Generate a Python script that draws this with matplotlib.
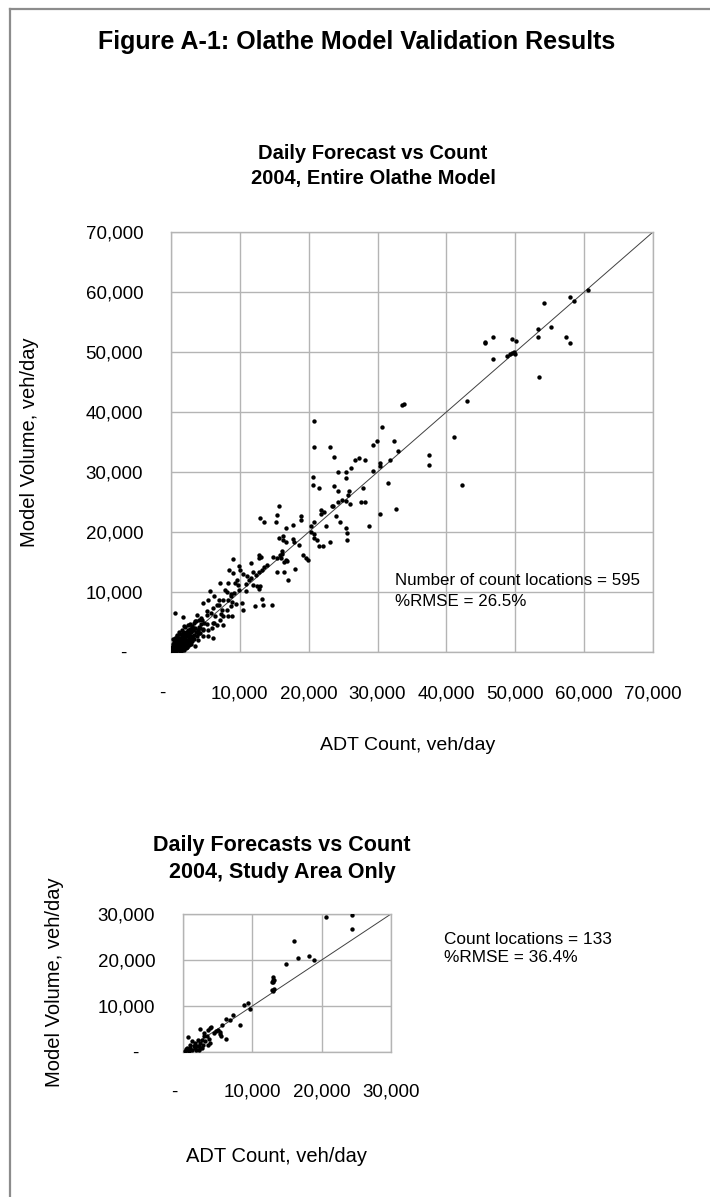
import matplotlib
matplotlib.use("Agg")
import matplotlib.pyplot as plt
from matplotlib.ticker import FuncFormatter, MultipleLocator
from matplotlib.lines import Line2D

W, H = 710, 1197
ARIAL = ["Liberation Sans", "DejaVu Sans"]
GRID = "#b4b4b4"

# entire model: ADT count vs model volume (veh/day)
top_count = [
    60550, 57980, 58560, 54100, 55220, 53240, 53240, 57400, 57980, 45630, 45630, 46750,
    49560, 50140, 46750, 48780, 49170, 49500, 49750, 49900, 53480, 43060, 41130, 37440,
    37440, 42240, 33620, 33810, 20830, 20830, 23110, 30710, 29890, 29310, 32410, 32940,
    31870, 23690, 26740, 27320, 28190, 30370, 30370, 29310, 26200, 24220, 25380, 25380,
    31530, 20590, 20590, 21460, 23690, 24220, 25910, 27940, 24800, 25380, 24320, 25770,
    25960, 27600, 28190, 23350, 23500, 30370, 32650, 21750, 22230, 21750, 23980, 24510,
    28720, 22570, 20830, 20300, 20300, 20830, 20830, 21170, 21460, 22040, 23110, 25380,
    25620, 25620, 18840, 18840, 17780, 16660, 15740, 15450, 15260, 12930, 13560, 15740,
    16320, 16660, 17780, 17920, 18650, 16320, 16080, 16080, 19230, 19570, 19960, 16710,
    16810, 16420, 14870, 15350, 15840, 15990, 12840, 13080, 12790, 18070, 16470, 16950,
    15350, 13900, 13510, 13170, 12840, 12350, 11960, 11580, 9060, 9930, 8480, 9060,
    10080, 10510, 11090, 11380, 9640, 9300, 10900, 11960, 12450, 12930, 12740, 13170,
    12250, 13420, 14680, 9830, 9150, 8670, 7120, 8330, 7840, 8080, 5670, 6300,
    7020, 7600, 8330, 8820, 9450, 10320, 10510, 8670, 8080, 7360, 6640, 6150,
    5430, 4700, 5770, 5190, 6400, 7600, 8330, 8820, 7120, 6150, 5190, 4460,
    3730, 3490, 3000, 2520, 4210, 4700, 5430, 5910, 6640, 7600, 5430, 6150,
    4700, 3970, 3250, 4120, 2030, 1700, 580, 2760, 3490, 2280, 1310, 1070,
    340,
    200, 350, 500, 650, 800, 900, 1000, 1100, 1200, 1300, 1400, 1500,
    1600, 1700, 1800, 1900, 2000, 2100, 2200, 2300, 2400, 2500, 2600, 2700,
    2800, 2900, 3000, 3100, 3200, 3300, 3400, 3500, 250, 400, 550, 700,
    850, 950, 1050, 1150, 1250, 1350, 1450, 1550, 1650, 1750, 1850, 1950,
    2050, 2150, 2250, 2350, 2450, 2550, 2650, 2750, 2850, 2950, 100, 300,
    150, 450, 600, 750, 50, 1100, 1400, 700, 350, 1000, 600, 1300,
    800, 200, 1700, 2100, 2400, 2700, 3000, 3300, 3600, 3800, 4000, 4200,
    3700, 4100, 4400, 4600, 4800, 3900, 1600, 1200, 900, 500, 300, 100,
    650, 1900, 150, 450, 750, 1050, 1350, 1650, 1950, 2250, 550, 850,
    5200, 6900, 7300, 9800, 10900, 11600, 6200, 8700, 4300, 3900,
]
top_model = [
    60280, 59230, 58560, 58230, 54230, 53890, 52560, 52560, 51560, 51730, 51500, 52560,
    52230, 51890, 48890, 49280, 49610, 49780, 49950, 49610, 45890, 41890, 35890, 32890,
    31220, 27890, 41110, 41340, 38560, 34220, 34220, 37560, 35220, 34560, 35220, 33560,
    31950, 32560, 31950, 32280, 31950, 31500, 30950, 30220, 30610, 29950, 29950, 28950,
    28220, 29220, 27890, 27280, 27610, 26890, 26890, 27280, 25280, 25110, 24950, 26110,
    24610, 24950, 24950, 24280, 24390, 22950, 23890, 23610, 23280, 22950, 22610, 21610,
    20950, 20950, 21610, 20950, 20000, 19720, 19000, 18610, 17610, 17610, 18280, 20720,
    19830, 18610, 22610, 22060, 21220, 20610, 24280, 22890, 21610, 22280, 21610, 19000,
    19280, 18390, 18890, 18280, 17890, 18610, 16780, 16280, 16220, 15670, 15280, 15390,
    15170, 14950, 15780, 15670, 16220, 15670, 16220, 15830, 15720, 13890, 13280, 11950,
    13280, 14560, 14110, 13720, 13280, 12890, 13280, 14830, 15560, 14280, 13610, 13170,
    13610, 13060, 12720, 12060, 12060, 11500, 11390, 11220, 10950, 10950, 10500, 8830,
    7610, 7780, 7890, 10280, 9830, 9390, 11500, 11500, 10390, 9950, 10110, 9280,
    8720, 8720, 8720, 8280, 8060, 8170, 7060, 7610, 7060, 6950, 7890, 7330,
    8720, 8170, 6500, 6220, 5950, 6060, 6060, 6060, 5390, 4830, 4720, 5390,
    6220, 5110, 4390, 3720, 4000, 3610, 3720, 4000, 4560, 4560, 2610, 2330,
    2610, 2060, 2330, 3170, 2890, 5830, 6500, 1500, 940, 830, 1780, 940,
    390,
    150, 400, 250, 700, 500, 900, 300, 1200, 800, 600, 1500, 1100,
    400, 1900, 1300, 800, 2200, 1600, 1000, 2600, 1900, 1400, 2900, 2100,
    1700, 3300, 2500, 1800, 3600, 2900, 2200, 4000, 600, 900, 1100, 300,
    1400, 1800, 700, 2000, 1700, 2400, 900, 2800, 2300, 700, 3100, 2700,
    1200, 3400, 2000, 900, 3200, 2400, 1100, 3800, 2600, 1300, 100, 50,
    350, 600, 150, 950, 300, 500, 200, 1600, 1300, 2300, 2000, 3000,
    2600, 900, 3400, 4200, 4500, 4600, 4100, 4900, 3300, 2700, 4200, 3100,
    5100, 5300, 4600, 3900, 4900, 3600, 3700, 3300, 2900, 1700, 2100, 700,
    2400, 4400, 200, 100, 150, 450, 250, 550, 350, 650, 1000, 1900,
    6800, 7900, 6300, 11200, 10200, 12300, 4800, 9600, 5600, 3100,
]

# study area only
study_count = [
    20670, 24380, 24380, 15960, 16590, 18130, 18850, 14860, 12980, 12980, 12980, 12890,
    13080, 12840, 13080, 12980, 9330, 8800, 9620, 7170, 6250, 6830, 8170, 5630,
    4760, 5380, 5530, 6250, 3850, 3560, 4040, 2500, 3080, 3460, 3700, 3940,
    3560, 2740, 2400, 2020, 1540, 770, 1300, 1060, 580, 340, 580, 1780,
    2500, 2790, 2120, 2980, 4420, 3220, 1780, 960, 1300, 2260, 820, 5000,
    5290, 2840, 2310, 380, 1920,
]
study_model = [
    29270, 29710, 26670, 24060, 20430, 20800, 20000, 19060, 16230, 15720, 15290, 15140,
    15580, 13410, 13700, 13190, 10580, 10220, 9280, 8040, 7170, 6880, 5800, 5800,
    4490, 3990, 3550, 2830, 5140, 4710, 5360, 5000, 4130, 3550, 2830, 1960,
    1520, 2680, 1960, 1230, 1380, 3260, 2320, 870, 510, 140, 940, 800,
    800, 940, 2680, 3410, 4130, 2320, 1960, 1590, 510, 510, 290, 4710,
    4280, 1520, 1380, 650, 360,
]

TOP_MAX = 70000
STUDY_MAX = 30000
TICK_FS = 13.5


def fmt(v, pos):
    if v == 0:
        return "-   "
    return f"{int(v):,}"


def px_axes(fig, left, top, right, bottom):
    return fig.add_axes([left / W, 1 - bottom / H, (right - left) / W, (bottom - top) / H])


def style_axes(ax, vmax, step, ypad, xpad):
    ax.set_xlim(0, vmax)
    ax.set_ylim(0, vmax)
    ax.xaxis.set_major_locator(MultipleLocator(step))
    ax.yaxis.set_major_locator(MultipleLocator(step))
    ax.xaxis.set_major_formatter(FuncFormatter(fmt))
    ax.yaxis.set_major_formatter(FuncFormatter(fmt))
    ax.grid(True, color=GRID, linewidth=1.0)
    ax.set_axisbelow(True)
    for s in ax.spines.values():
        s.set_color(GRID)
        s.set_linewidth(1.0)
    ax.tick_params(length=0, labelsize=TICK_FS, colors="black")
    ax.tick_params(axis="y", pad=ypad)
    ax.tick_params(axis="x", pad=xpad)
    for lab in ax.get_xticklabels() + ax.get_yticklabels():
        lab.set_family(ARIAL)
    ax.plot([0, vmax], [0, vmax], color="#404040", linewidth=0.7, zorder=2)


fig = plt.figure(figsize=(W / 100, H / 100), dpi=100)

# page frame (left and top edges only)
fig.add_artist(Line2D([10 / W, 10 / W], [0, 1 - 9 / H], color="#8c8c8c", linewidth=1.6))
fig.add_artist(Line2D([10 / W, 1], [1 - 9 / H, 1 - 9 / H], color="#8c8c8c", linewidth=1.6))

fig.text(357 / W, 1 - 42 / H, "Figure A-1: Olathe Model Validation Results",
         ha="center", va="center", fontsize=18, weight="bold", family=ARIAL)

# --- entire model ---
ax1 = px_axes(fig, 171, 232, 653, 652)
style_axes(ax1, TOP_MAX, 10000, ypad=20, xpad=24)
ax1.scatter(top_count, top_model, s=10, color="black", linewidths=0, zorder=3)
fig.text(373 / W, 1 - 166 / H, "Daily Forecast vs Count\n2004, Entire Olathe Model",
         ha="center", va="center", fontsize=14.5, weight="bold", family=ARIAL,
         linespacing=1.4)
fig.text(30 / W, 1 - 442 / H, "Model Volume, veh/day", rotation=90,
         ha="center", va="center", fontsize=14.5, family=ARIAL)
fig.text(408 / W, 1 - 745 / H, "ADT Count, veh/day",
         ha="center", va="center", fontsize=14, family=ARIAL)
ax1.text(32500, 10200, "Number of count locations = 595\n%RMSE = 26.5%",
         ha="left", va="center", fontsize=12.2, family=ARIAL, linespacing=1.45)

# --- study area ---
ax2 = px_axes(fig, 183, 914, 391, 1052)
style_axes(ax2, STUDY_MAX, 10000, ypad=20, xpad=23)
ax2.scatter(study_count, study_model, s=10, color="black", linewidths=0, zorder=3)
fig.text(282 / W, 1 - 859 / H, "Daily Forecasts vs Count\n2004, Study Area Only",
         ha="center", va="center", fontsize=15.5, weight="bold", family=ARIAL,
         linespacing=1.35)
fig.text(55 / W, 1 - 982 / H, "Model Volume, veh/day", rotation=90,
         ha="center", va="center", fontsize=14.5, family=ARIAL)
fig.text(276 / W, 1 - 1156 / H, "ADT Count, veh/day",
         ha="center", va="center", fontsize=14.5, family=ARIAL)
fig.text(444 / W, 1 - 949 / H, "Count locations = 133\n%RMSE = 36.4%",
         ha="left", va="center", fontsize=12.4, family=ARIAL, linespacing=1.25)

fig.savefig("out.png", dpi=100, facecolor="white")
